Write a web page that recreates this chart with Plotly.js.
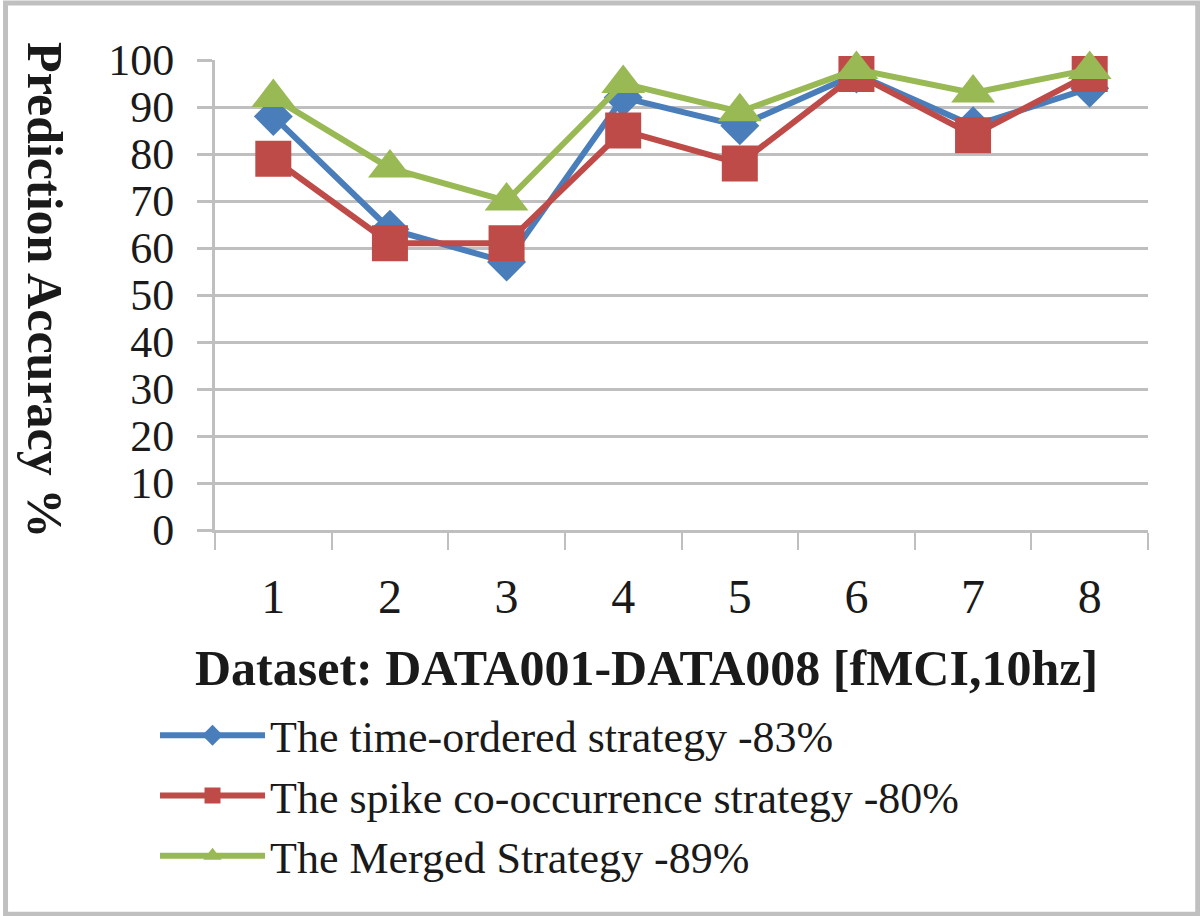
<!DOCTYPE html>
<html>
<head>
<meta charset="utf-8">
<script src="https://cdn.plot.ly/plotly-3.0.1.min.js"></script>
<style>
html,body{margin:0;padding:0;background:#fff;}
#wrap{position:absolute;left:0;top:0;width:1200px;height:916px;}
</style>
</head>
<body>
<div id="wrap"></div>
<script>
const categories = ['1','2','3','4','5','6','7','8'];
const timeOrdered = [88, 64, 57, 92, 86, 97, 86, 94];
const spikeCooccurrence = [79, 61, 61, 85, 78, 97, 84, 97];
const merged = [92, 77, 70, 95, 89, 98, 93, 98];
const seriesNames = [
  'The time-ordered strategy -83%',
  'The spike co-occurrence strategy -80%',
  'The Merged Strategy -89%'
];
const yTicks = [0,10,20,30,40,50,60,70,80,90,100];

const serif = '"Liberation Serif", "Times New Roman", serif';
const gridCol = '#bfbfbf';

const traces = [
  {x: categories, y: timeOrdered, name: seriesNames[0], type: 'scatter', mode: 'lines+markers',
   line: {color: '#4A7EBB', width: 6}, marker: {symbol: 'diamond', size: 30, color: '#4A7EBB'}, cliponaxis: false},
  {x: categories, y: spikeCooccurrence, name: seriesNames[1], type: 'scatter', mode: 'lines+markers',
   line: {color: '#BE4B48', width: 6}, marker: {symbol: 'square', size: 36, color: '#BE4B48'}, cliponaxis: false},
  {x: categories, y: merged, name: seriesNames[2], type: 'scatter', mode: 'lines+markers',
   line: {color: '#98B954', width: 6}, marker: {symbol: 'triangle-up', size: 38, color: '#98B954'}, cliponaxis: false}
];

const layout = {
  width: 1200, height: 916,
  margin: {l: 215, r: 52, t: 60, b: 386},
  paper_bgcolor: '#ffffff', plot_bgcolor: '#ffffff',
  font: {family: serif, color: '#1a1a1a', size: 48},
  showlegend: true,
  legend: {
    x: -0.0643, xanchor: 'left', y: -0.362, yanchor: 'top',
    orientation: 'v', font: {family: serif, size: 44, color: '#1a1a1a'},
    itemwidth: 105, tracegroupgap: 0, bgcolor: 'rgba(0,0,0,0)'
  },
  xaxis: {
    type: 'category', range: [-0.5, 7.5],
    tickson: 'boundaries', ticks: 'outside', ticklen: 17, tickwidth: 2, tickcolor: gridCol,
    showline: true, linecolor: gridCol, linewidth: 3,
    showgrid: false, zeroline: false,
    tickfont: {family: serif, size: 48, color: '#1a1a1a'},
    ticklabelstandoff: 22
  },
  yaxis: {
    range: [0, 100], tickvals: yTicks, ticktext: yTicks.map(String),
    ticks: 'outside', ticklen: 15, tickwidth: 3, tickcolor: gridCol,
    showgrid: true, gridcolor: gridCol, gridwidth: 3,
    showline: true, linecolor: gridCol, linewidth: 3,
    zeroline: false,
    tickfont: {family: serif, size: 44, color: '#1a1a1a'},
    ticklabelstandoff: 14
  },
  annotations: [
    {text: '<b>Prediction Accuracy %</b>', xref: 'paper', yref: 'paper', x: -0.182, y: 0.51,
     xanchor: 'center', yanchor: 'middle',
     textangle: 90, showarrow: false, font: {family: serif, size: 50, color: '#1a1a1a'}},
    {text: '<b>Dataset: DATA001-DATA008 [fMCI,10hz]</b>', xref: 'paper', yref: 'paper', x: 0.463, y: -0.294,
     xanchor: 'center', yanchor: 'middle',
     showarrow: false, font: {family: serif, size: 50, color: '#1a1a1a'}}
  ],
  shapes: [
    {type: 'rect', xref: 'paper', yref: 'paper', x0: -0.2245, x1: 1.0533, y0: -0.8177, y1: 1.1213,
     line: {color: '#c0c0c0', width: 5}, fillcolor: 'rgba(0,0,0,0)', layer: 'below'}
  ]
};

Plotly.newPlot('wrap', traces, layout, {displayModeBar: false, staticPlot: true});
</script>
</body>
</html>
